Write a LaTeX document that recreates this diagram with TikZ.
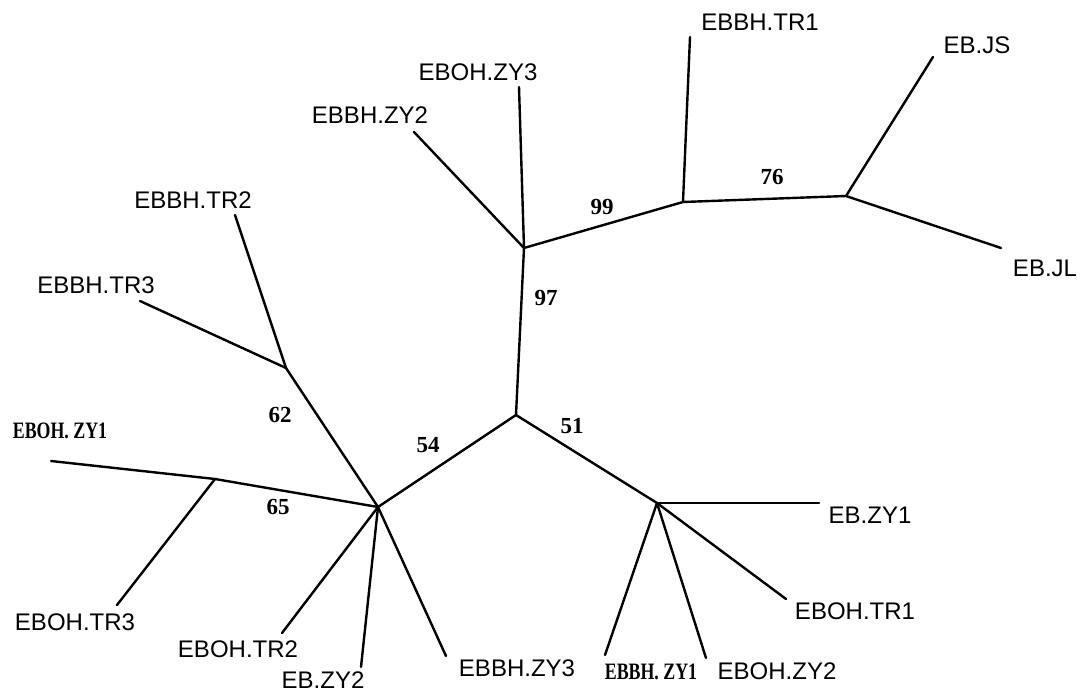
\documentclass[tikz,border=0pt]{standalone}
\usepackage{fontspec}
\setmainfont{Liberation Sans}
\newfontfamily\serifbm{Liberation Serif}
\begin{document}
\begin{tikzpicture}[x=1pt,y=-1pt,
  branch/.style={line width=2.4pt,line cap=round,line join=round},
  leaf/.style={inner sep=0pt,font=\fontsize{24}{24}\selectfont},
  leafserif/.style={inner sep=0pt,font=\fontsize{23.5}{24}\serifbm\bfseries},
  boot/.style={inner sep=0pt,font=\fontsize{23}{23}\serifbm\bfseries}]
\useasboundingbox (0,0) rectangle (1080,693);
% internal nodes
\coordinate (A) at (524,248);
\coordinate (B) at (683,202);
\coordinate (C) at (846,196);
\coordinate (D) at (516,415);
\coordinate (E) at (378,507);
\coordinate (F) at (657,503);
\coordinate (G) at (286,368);
\coordinate (H) at (215,479);
% leaf ends
\coordinate (tr1) at (690,37);
\coordinate (js) at (933,57);
\coordinate (jl) at (1001,248);
\coordinate (ozy3) at (519,87);
\coordinate (bzy2) at (414,132);
\coordinate (btr2) at (235,215);
\coordinate (btr3) at (140,301);
\coordinate (ozy1) at (51,461);
\coordinate (otr3) at (117,605);
\coordinate (otr2) at (282,633);
\coordinate (ebzy2) at (361,667);
\coordinate (bzy3) at (446,656);
\coordinate (ebzy1) at (819,503);
\coordinate (otr1) at (786,599);
\coordinate (bzy1) at (605,655);
\coordinate (ozy2) at (706,658);
% branches
\draw[branch] (A) -- (B);
\draw[branch] (B) -- (C);
\draw[branch] (B) -- (tr1);
\draw[branch] (C) -- (js);
\draw[branch] (C) -- (jl);
\draw[branch] (A) -- (ozy3);
\draw[branch] (A) -- (bzy2);
\draw[branch] (A) -- (D);
\draw[branch] (D) -- (E);
\draw[branch] (D) -- (F);
\draw[branch] (E) -- (G);
\draw[branch] (G) -- (btr2);
\draw[branch] (G) -- (btr3);
\draw[branch] (E) -- (H);
\draw[branch] (H) -- (ozy1);
\draw[branch] (H) -- (otr3);
\draw[branch] (E) -- (otr2);
\draw[branch] (E) -- (ebzy2);
\draw[branch] (E) -- (bzy3);
\draw[branch] (F) -- (ebzy1);
\draw[branch] (F) -- (otr1);
\draw[branch] (F) -- (bzy1);
\draw[branch] (F) -- (ozy2);
% leaf labels
\node[leaf] (Ltr1) at (760,22) {EBBH.TR1};
\node[leaf] (Ljs) at (977,45) {EB.JS};
\node[leaf] (Ljl) at (1045,268) {EB.JL};
\node[leaf] (Lozy3) at (478,72) {EBOH.ZY3};
\node[leaf] (Lbzy2) at (370,115) {EBBH.ZY2};
\node[leaf] (Lbtr2) at (193,200) {EBBH.TR2};
\node[leaf] (Lbtr3) at (96,285) {EBBH.TR3};
\node[leafserif] (Lozy1) at (60,431) {\scalebox{0.76}[1]{EBOH. ZY1}};
\node[leaf] (Lotr3) at (75,622) {EBOH.TR3};
\node[leaf] (Lotr2) at (238,649) {EBOH.TR2};
\node[leaf] (Lebzy2) at (323,680) {EB.ZY2};
\node[leaf] (Lbzy3) at (517,668) {EBBH.ZY3};
\node[leaf] (Lebzy1) at (870,515) {EB.ZY1};
\node[leaf] (Lotr1) at (855,611) {EBOH.TR1};
\node[leafserif] (Lbzy1) at (651,672) {\scalebox{0.76}[1]{EBBH. ZY1}};
\node[leaf] (Lozy2) at (777,671) {EBOH.ZY2};
% bootstrap values
\node[boot] (b99) at (602,207) {99};
\node[boot] (b76) at (772,177) {76};
\node[boot] (b97) at (546,298) {97};
\node[boot] (b62) at (280,415) {62};
\node[boot] (b54) at (428,445) {54};
\node[boot] (b65) at (278,507) {65};
\node[boot] (b51) at (572,426) {51};
\end{tikzpicture}
\end{document}
